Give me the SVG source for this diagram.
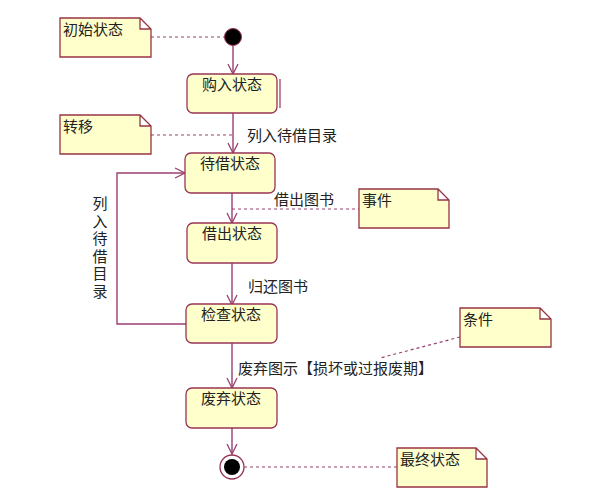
<svg xmlns="http://www.w3.org/2000/svg" width="598" height="500" viewBox="0 0 598 500">
<style>
text{font-family:"Noto Sans CJK SC","Noto Sans",sans-serif;font-size:15px;fill:#222}
.note{fill:#ffffcc;stroke:#993344;stroke-width:1.3}
.state{fill:#ffffcc;stroke:#993355;stroke-width:1.3}
.edge{fill:none;stroke:#994070;stroke-width:1.4}
.dash{fill:none;stroke:#994070;stroke-width:1.2;stroke-dasharray:3,3}
.c{text-anchor:middle}
.vert{writing-mode:vertical-rl;letter-spacing:2.5px}
</style>
<defs>
<marker id="arr" viewBox="0 0 12 12" refX="11" refY="6" markerWidth="12" markerHeight="12" markerUnits="userSpaceOnUse" orient="auto">
<path d="M1,1 L11,6 L1,11" fill="none" stroke="#994070" stroke-width="1.3"/>
</marker>
</defs>
<rect width="598" height="500" fill="#ffffff"/>
<g id="connectors">
<line class="dash" x1="151" y1="37" x2="225" y2="37"/>
<line class="edge" x1="233" y1="46" x2="233" y2="74" marker-end="url(#arr)"/>
<line class="edge" x1="233" y1="113" x2="233" y2="153" marker-end="url(#arr)"/>
<line class="dash" x1="151" y1="135" x2="233" y2="135"/>
<line class="edge" x1="232" y1="193" x2="232" y2="223" marker-end="url(#arr)"/>
<line class="dash" x1="232" y1="209" x2="359" y2="209"/>
<line class="edge" x1="232" y1="263" x2="232" y2="305" marker-end="url(#arr)"/>
<polyline class="edge" points="186,324 117,324 117,173 185,173" marker-end="url(#arr)"/>
<line class="edge" x1="232" y1="343" x2="232" y2="388" marker-end="url(#arr)"/>
<line class="dash" x1="460" y1="337" x2="380" y2="358"/>
<line class="edge" x1="232" y1="428" x2="232" y2="454" marker-end="url(#arr)"/>
<line class="dash" x1="244" y1="467" x2="397" y2="467"/>
<text x="247" y="141">列入待借目录</text>
<text x="274" y="205">借出图书</text>
<text x="248" y="292">归还图书</text>
<text x="238" y="374">废弃图示【损坏或过报废期】</text>
<text class="vert" x="100" y="196">列入待借目录</text>
</g>
<g id="initial">
<circle cx="233" cy="37" r="8.5" fill="#000" stroke="#993355" stroke-width="1"/>
</g>
<g id="final">
<circle cx="232" cy="467" r="12" fill="#fff" stroke="#993355" stroke-width="1.3"/>
<circle cx="232" cy="467" r="8" fill="#000"/>
</g>
<g id="note-initial">
<path class="note" d="M60,18 H140 L151,29 V57 H60 Z M140,18 V29 H151"/>
<text x="63" y="35">初始状态</text>
</g>
<g id="note-transition">
<path class="note" d="M60,115 H140 L151,126 V154 H60 Z M140,115 V126 H151"/>
<text x="63" y="132">转移</text>
</g>
<g id="note-event">
<path class="note" d="M359,189 H438 L449,200 V228 H359 Z M438,189 V200 H449"/>
<text x="362" y="206">事件</text>
</g>
<g id="note-condition">
<path class="note" d="M460,308 H540 L551,319 V347 H460 Z M540,308 V319 H551"/>
<text x="463" y="325">条件</text>
</g>
<g id="note-final">
<path class="note" d="M397,448 H476 L487,459 V487 H397 Z M476,448 V459 H487"/>
<text x="400" y="465">最终状态</text>
</g>
<g id="state-buy">
<rect class="state" x="187" y="74" width="90" height="39" rx="6"/>
<line x1="280" y1="79" x2="280" y2="108" stroke="#993355" stroke-width="1.2"/>
<text class="c" x="232" y="90">购入状态</text>
</g>
<g id="state-wait">
<rect class="state" x="185" y="153" width="90" height="40" rx="6"/>
<text class="c" x="230" y="169">待借状态</text>
</g>
<g id="state-lent">
<rect class="state" x="187" y="223" width="90" height="40" rx="6"/>
<text class="c" x="232" y="239">借出状态</text>
</g>
<g id="state-check">
<rect class="state" x="186" y="304" width="91" height="39" rx="6"/>
<text class="c" x="231" y="320">检查状态</text>
</g>
<g id="state-discard">
<rect class="state" x="186" y="388" width="91" height="40" rx="6"/>
<text class="c" x="231" y="404">废弃状态</text>
</g>
</svg>
